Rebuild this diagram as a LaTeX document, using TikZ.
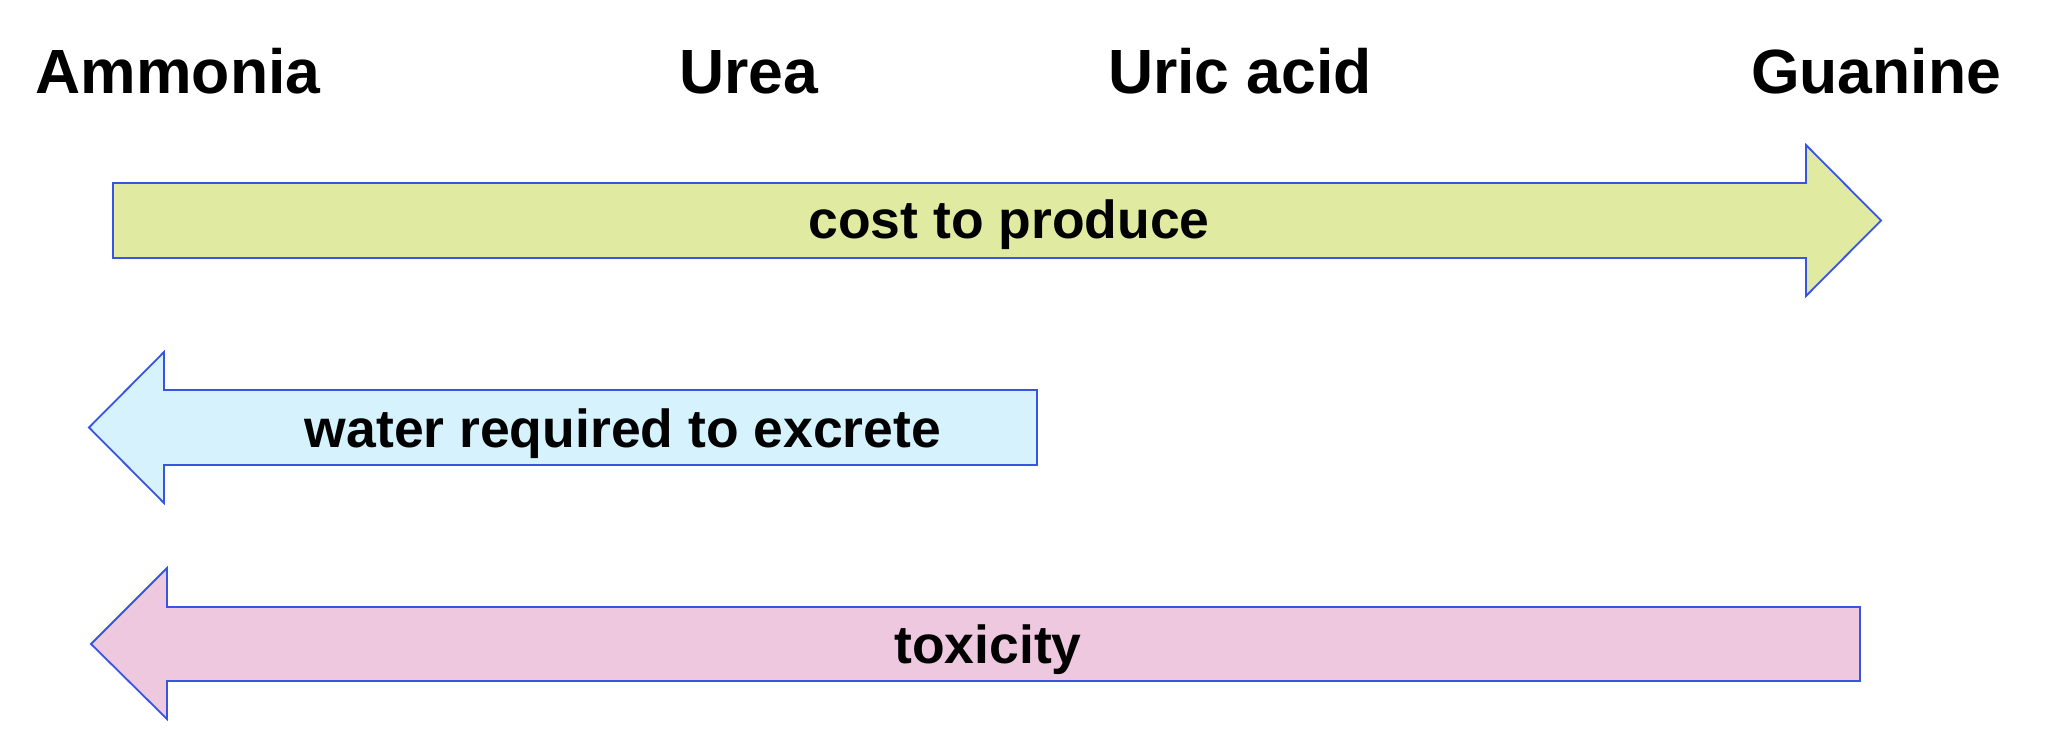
\documentclass[tikz,border=0pt]{standalone}
\usepackage{fontspec}
\setmainfont{Liberation Sans}
\definecolor{edgeblue}{RGB}{55,85,225}
\definecolor{fillgreen}{RGB}{224,235,161}
\definecolor{fillblue}{RGB}{214,242,253}
\definecolor{fillpink}{RGB}{238,200,223}
\begin{document}
\begin{tikzpicture}[x=1pt,y=-1pt,
  arrowshape/.style={draw=edgeblue,line width=1.8pt,line join=miter},
  header/.style={anchor=base,inner sep=0pt,font=\fontsize{62.5}{70}\selectfont\bfseries},
  arrowtext/.style={anchor=base,inner sep=0pt,font=\fontsize{53.5}{60}\selectfont\bfseries}]
\useasboundingbox[fill=white] (0,0) rectangle (2048,743);
% headers
\node[header] (ammonia) at (178,94) {Ammonia};
\node[header] (urea) at (749,94) {Urea};
\node[header] (uric) at (1240,94) {Uric acid};
\node[header] (guanine) at (1876,94) {Guanine};
% cost arrow
\draw[arrowshape,fill=fillgreen] (113,183) -- (1806,183) -- (1806,145) -- (1881,220.5) -- (1806,296) -- (1806,258) -- (113,258) -- cycle;
\node[arrowtext] (cost) at (1009,239) {cost to produce};
% water arrow
\draw[arrowshape,fill=fillblue] (1037,390) -- (164,390) -- (164,352) -- (89,427.5) -- (164,503) -- (164,465) -- (1037,465) -- cycle;
\node[arrowtext] (water) at (623,447) {water required to excrete};
% toxicity arrow
\draw[arrowshape,fill=fillpink] (1860,607) -- (167,607) -- (167,568) -- (91,644) -- (167,719) -- (167,681) -- (1860,681) -- cycle;
\node[arrowtext] (tox) at (988,663) {toxicity};
\end{tikzpicture}
\end{document}
